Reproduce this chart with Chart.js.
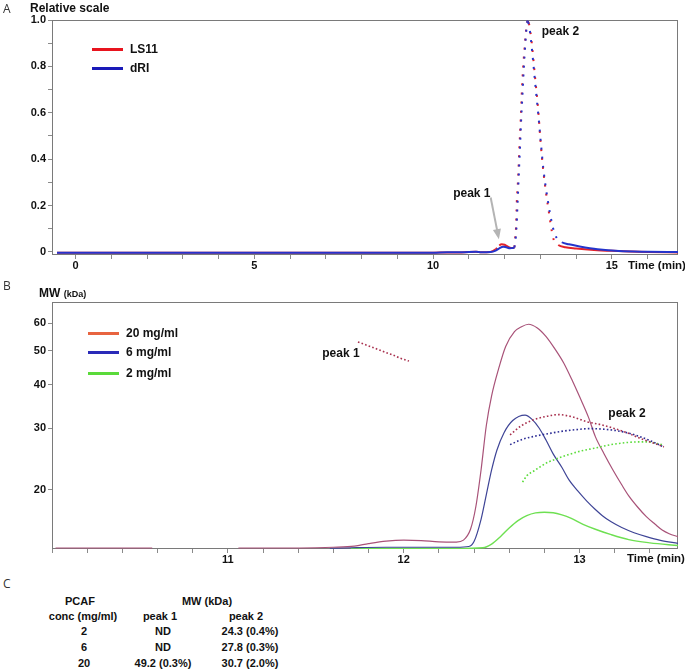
<!DOCTYPE html>
<html>
<head>
<meta charset="utf-8">
<script src="https://cdn.jsdelivr.net/npm/chart.js@4.4.1/dist/chart.umd.min.js"></script>
<style>
  body { margin: 0; width: 685px; height: 671px; background: #fff; position: relative; overflow: hidden;
         font-family: "Liberation Sans", Arial, sans-serif; }
  canvas { position: absolute; left: 0; }
  #chartA { top: 0; }
  #chartB { top: 280px; }
  .t { position: absolute; white-space: nowrap; transform: translateY(-50%); font-weight: bold; font-size: 12px; color: #111; }
  .c { position: absolute; white-space: nowrap; transform: translate(-50%, -50%); font-weight: bold; font-size: 11px; color: #111; }
  .panel { position: absolute; font-family: "Open Sans", "DejaVu Sans", sans-serif; font-size: 12px; color: #333; transform: translateY(-50%); }
  .leg { position: absolute; width: 31px; height: 3px; }
</style>
</head>
<body>
<canvas id="chartA" width="685" height="280"></canvas>
<canvas id="chartB" width="685" height="290"></canvas>

<div class="panel" style="left:3px;top:8px">A</div>
<div class="t" style="left:30px;top:8px">Relative scale</div>
<div class="t" style="left:628px;top:265px;font-size:11.5px">Time (min)</div>

<div class="panel" style="left:3px;top:285px">B</div>
<div class="t" style="left:39px;top:293px">MW <span style="font-size:9px">(kDa)</span></div>
<div class="t" style="left:627px;top:558px;font-size:11.5px">Time (min)</div>

<div class="panel" style="left:3px;top:583px">C</div>
<div id="legendA"></div>
<div id="legendB"></div>
<div id="tableC"></div>

<script>
// ---- panel A: light scattering (LS11) and refractive index (dRI) traces
const LS11_T = [-0.52, 10.0, 10.4, 10.8, 11.2, 11.35, 11.6, 11.75, 11.85, 11.92, 12.0, 12.08, 12.15, 12.22, 12.27,
  12.29, 12.32, 12.34, 12.38, 12.41, 12.45, 12.48, 12.52, 12.57, 12.61, 12.64, 12.68, 12.72, 12.76, 12.85,
  12.94, 13.01, 13.08, 13.16, 13.25, 13.32, 13.38, 13.5, 13.7, 14.0, 14.5, 15.0, 15.5, 16.0, 16.85];
const LS11_V = [-0.003, -0.003, -0.002, -0.002, 0.001, -0.001, 0.0, 0.012, 0.028, 0.033, 0.031, 0.024, 0.018, 0.017, 0.02,
  0.052, 0.108, 0.211, 0.324, 0.44, 0.569, 0.684, 0.799, 0.9, 0.97, 0.993, 0.985, 0.95, 0.899, 0.756,
  0.612, 0.468, 0.353, 0.253, 0.16, 0.09, 0.05, 0.03, 0.02, 0.015, 0.009, 0.005, 0.002, 0.0, -0.002];

const DRI_T = [-0.52, 10.0, 10.4, 10.8, 11.2, 11.35, 11.6, 11.75, 11.85, 11.96, 12.05, 12.15, 12.22, 12.27, 12.3,
  12.33, 12.36, 12.39, 12.43, 12.46, 12.5, 12.54, 12.58, 12.61, 12.635, 12.66, 12.7, 12.74, 12.78, 12.86,
  12.95, 13.02, 13.09, 13.17, 13.26, 13.36, 13.45, 13.6, 13.8, 14.1, 14.6, 15.2, 16.0, 16.85];
const DRI_V = [-0.003, -0.003, -0.001, -0.001, 0.001, -0.001, 0.0, 0.006, 0.016, 0.023, 0.02, 0.016, 0.017, 0.02, 0.045,
  0.1, 0.2, 0.31, 0.45, 0.56, 0.68, 0.8, 0.9, 0.96, 0.995, 0.99, 0.96, 0.91, 0.85, 0.72,
  0.58, 0.46, 0.35, 0.26, 0.175, 0.1, 0.062, 0.042, 0.033, 0.024, 0.012, 0.004, 0.001, 0.0];

const A_X_LABELS = [0, 5, 10, 15];
const A_Y_LABELS = [0, 0.2, 0.4, 0.6, 0.8, 1.0];

// ---- panel B: detector traces (relative) and MW (kDa, log axis)
const TRACE20_T = [10.02, 10.57, 10.8, 11.06, 11.3, 11.5, 11.6, 11.72, 11.8, 11.9, 12.0, 12.1, 12.2, 12.3, 12.34,
  12.38, 12.41, 12.44, 12.47, 12.5, 12.54, 12.58, 12.63, 12.67, 12.71, 12.76, 12.81, 12.86, 12.91, 12.96,
  13.0, 13.05, 13.09, 13.14, 13.19, 13.24, 13.28, 13.33, 13.38, 13.43, 13.47, 13.51, 13.56];
const TRACE20_V = [0.004, 0.004, null, 0.004, 0.004, 0.005, 0.007, 0.012, 0.022, 0.032, 0.036, 0.034, 0.029, 0.028, 0.036,
  0.08, 0.17, 0.32, 0.5, 0.62, 0.73, 0.82, 0.88, 0.9, 0.91, 0.895, 0.86, 0.81, 0.753, 0.68,
  0.617, 0.535, 0.455, 0.385, 0.32, 0.26, 0.215, 0.17, 0.131, 0.1, 0.077, 0.062, 0.05];

const TRACE6_T = [11.58, 11.7, 11.9, 12.1, 12.3, 12.37, 12.4, 12.44, 12.47, 12.5, 12.53, 12.57, 12.62, 12.69, 12.73,
  12.77, 12.81, 12.85, 12.9, 12.94, 12.99, 13.04, 13.09, 13.13, 13.18, 13.24, 13.31, 13.38, 13.46, 13.56];
const TRACE6_V = [0.003, 0.005, 0.007, 0.007, 0.007, 0.01, 0.03, 0.12, 0.22, 0.32, 0.4, 0.47, 0.52, 0.542, 0.525,
  0.49, 0.44, 0.385, 0.33, 0.28, 0.235, 0.195, 0.16, 0.135, 0.11, 0.087, 0.066, 0.05, 0.035, 0.023];

const TRACE2_T = [11.7, 12.0, 12.3, 12.45, 12.5, 12.55, 12.6, 12.65, 12.7, 12.75, 12.8, 12.85, 12.9, 12.95, 13.02,
  13.09, 13.18, 13.28, 13.4, 13.56];
const TRACE2_V = [0.002, 0.002, 0.002, 0.005, 0.02, 0.05, 0.085, 0.115, 0.135, 0.146, 0.149, 0.147, 0.138, 0.125, 0.1,
  0.08, 0.058, 0.038, 0.025, 0.014];

const MW20_PEAK1_T = [11.74, 11.78, 11.82, 11.86, 11.9, 11.94, 11.98, 12.03];
const MW20_PEAK1 = [53.0, 52.1, 51.2, 50.3, 49.4, 48.6, 47.6, 46.7];
const MW20_PEAK2_T = [12.605, 12.67, 12.74, 12.81, 12.88, 12.96, 13.04, 13.12, 13.19, 13.27, 13.34, 13.41, 13.48];
const MW20_PEAK2 = [28.7, 30.5, 31.7, 32.4, 32.8, 32.3, 31.3, 30.7, 30.0, 29.1, 28.1, 27.3, 26.5];
const MW6_T = [12.605, 12.67, 12.74, 12.82, 12.905, 12.98, 13.06, 13.13, 13.19, 13.27, 13.34, 13.41, 13.47];
const MW6 = [26.9, 27.8, 28.4, 28.9, 29.4, 29.7, 29.9, 29.8, 29.6, 29.1, 28.4, 27.5, 26.6];
const MW2_T = [12.676, 12.7, 12.74, 12.78, 12.81, 12.87, 12.94, 13.01, 13.09, 13.18, 13.28, 13.38, 13.47];
const MW2 = [21.0, 21.9, 22.6, 23.3, 23.8, 24.5, 25.2, 25.8, 26.3, 26.9, 27.3, 27.4, 26.9];

const B_X_LABELS = [11, 12, 13];
const MW_TICKS = [20, 30, 40, 50, 60];

// ---- panel C: table
const CONC = ['2', '6', '20'];
const PEAK1 = ['ND', 'ND', '49.2 (0.3%)'];
const PEAK2 = ['24.3 (0.4%)', '27.8 (0.3%)', '30.7 (2.0%)'];

const FONT = '"Liberation Sans", Arial, sans-serif';
const pts = (t, v) => t.map((x, i) => ({ x, y: v[i] }));
const near = (v, list) => list.some(l => Math.abs(l - v) < 1e-6);

// box round the plot area
const frame = {
  id: 'frame',
  beforeDatasetsDraw(chart) {
    const { ctx, chartArea: a } = chart;
    ctx.save();
    ctx.strokeStyle = '#7a7a7a';
    ctx.lineWidth = 1;
    ctx.strokeRect(Math.round(a.left) + 0.5, Math.round(a.top) + 0.5,
      Math.round(a.right - a.left) - 1, Math.round(a.bottom - a.top) - 1);
    ctx.restore();
  }
};

// peak labels and the grey arrow
const notes = {
  id: 'notes',
  afterDatasetsDraw(chart, args, opts) {
    const { ctx, scales } = chart;
    const xs = scales.x, ys = scales[opts.yAxis || 'y'];
    ctx.save();
    ctx.font = 'bold 12px ' + FONT;
    ctx.fillStyle = '#111';
    ctx.textBaseline = 'middle';
    (opts.labels || []).forEach(l => ctx.fillText(l.text, xs.getPixelForValue(l.x), ys.getPixelForValue(l.y)));
    (opts.arrows || []).forEach(a => {
      const x0 = xs.getPixelForValue(a.x0), y0 = ys.getPixelForValue(a.y0);
      const x1 = xs.getPixelForValue(a.x1), y1 = ys.getPixelForValue(a.y1);
      const ang = Math.atan2(y1 - y0, x1 - x0);
      ctx.strokeStyle = '#b4b4b4'; ctx.fillStyle = '#b4b4b4'; ctx.lineWidth = 2;
      ctx.beginPath(); ctx.moveTo(x0, y0);
      ctx.lineTo(x1 - 8 * Math.cos(ang), y1 - 8 * Math.sin(ang)); ctx.stroke();
      ctx.beginPath(); ctx.moveTo(x1, y1);
      ctx.lineTo(x1 - 11 * Math.cos(ang - 0.38), y1 - 11 * Math.sin(ang - 0.38));
      ctx.lineTo(x1 - 11 * Math.cos(ang + 0.38), y1 - 11 * Math.sin(ang + 0.38));
      ctx.closePath(); ctx.fill();
    });
    ctx.restore();
  }
};

const tickFont = { family: FONT, size: 11, weight: 'bold' };
const axisGrid = { drawOnChartArea: false, tickLength: 4, color: '#8a8a8a' };

// steep parts of the chromatogram come out as separate sample dots
const steep = c => Math.abs(c.p1.y - c.p0.y) > 3 ? [2, 7] : undefined;

new Chart(document.getElementById('chartA'), {
  type: 'line',
  data: {
    datasets: [
      { label: 'dRI', data: pts(DRI_T, DRI_V), borderColor: '#2434cc', borderWidth: 2, segment: { borderDash: steep } },
      { label: 'LS11', data: pts(LS11_T, LS11_V), borderColor: '#e3222a', borderWidth: 2, segment: { borderDash: steep } }
    ]
  },
  options: {
    responsive: false,
    animation: false,
    events: [],
    parsing: false,
    layout: { padding: { left: 0, top: 20, right: 7, bottom: 0 } },
    elements: { point: { radius: 0 }, line: { cubicInterpolationMode: 'monotone' } },
    plugins: {
      legend: { display: false },
      tooltip: { enabled: false },
      notes: {
        labels: [{ text: 'peak 1', x: 10.56, y: 0.25 }, { text: 'peak 2', x: 13.04, y: 0.95 }],
        arrows: [{ x0: 11.61, y0: 0.235, x1: 11.84, y1: 0.055 }]
      }
    },
    scales: {
      x: {
        type: 'linear', min: -0.66, max: 16.85,
        afterFit: s => { s.height = 25; },
        grid: axisGrid, border: { display: false },
        ticks: { stepSize: 1, includeBounds: false, autoSkip: false, maxRotation: 0, padding: 0,
          font: tickFont, color: '#111', callback: v => near(v, A_X_LABELS) ? String(Math.round(v)) : '' }
      },
      y: {
        min: -0.013, max: 1.0,
        afterFit: s => { s.width = 52; },
        grid: axisGrid, border: { display: false },
        ticks: { stepSize: 0.1, includeBounds: false, autoSkip: false, padding: 2,
          font: tickFont, color: '#111',
          callback: v => near(v, A_Y_LABELS) ? (Math.abs(v) < 1e-6 ? '0' : v.toFixed(1)) : '' }
      }
    }
  },
  plugins: [frame, notes]
});

new Chart(document.getElementById('chartB'), {
  type: 'line',
  data: {
    datasets: [
      { label: '20 mg/ml MW peak 1', data: pts(MW20_PEAK1_T, MW20_PEAK1), yAxisID: 'y', borderColor: '#a8304e', borderWidth: 1.6, borderDash: [1.6, 2.2] },
      { label: '20 mg/ml MW peak 2', data: pts(MW20_PEAK2_T, MW20_PEAK2), yAxisID: 'y', borderColor: '#a8304e', borderWidth: 1.6, borderDash: [1.6, 2.2] },
      { label: '6 mg/ml MW', data: pts(MW6_T, MW6), yAxisID: 'y', borderColor: '#2c2c94', borderWidth: 1.6, borderDash: [1.6, 2.2] },
      { label: '2 mg/ml MW', data: pts(MW2_T, MW2), yAxisID: 'y', borderColor: '#5cdc3c', borderWidth: 1.6, borderDash: [1.6, 2.2] },
      { label: '20 mg/ml', data: pts(TRACE20_T, TRACE20_V), yAxisID: 'y2', borderColor: '#a85278', borderWidth: 1.2 },
      { label: '6 mg/ml', data: pts(TRACE6_T, TRACE6_V), yAxisID: 'y2', borderColor: '#3e4496', borderWidth: 1.2 },
      { label: '2 mg/ml', data: pts(TRACE2_T, TRACE2_V), yAxisID: 'y2', borderColor: '#6ee052', borderWidth: 1.4 }
    ]
  },
  options: {
    responsive: false,
    animation: false,
    events: [],
    parsing: false,
    layout: { padding: { left: 0, top: 22, right: 7, bottom: 0 } },
    elements: { point: { radius: 0 }, line: { cubicInterpolationMode: 'monotone' } },
    plugins: {
      legend: { display: false },
      tooltip: { enabled: false },
      notes: {
        labels: [{ text: 'peak 1', x: 11.537, y: 49.2 }, { text: 'peak 2', x: 13.164, y: 33.0 }]
      }
    },
    scales: {
      x: {
        type: 'linear', min: 10.0, max: 13.56,
        afterFit: s => { s.height = 21; },
        grid: axisGrid, border: { display: false },
        ticks: { stepSize: 0.2, includeBounds: false, autoSkip: false, maxRotation: 0, padding: 0,
          font: tickFont, color: '#111', callback: v => near(v, B_X_LABELS) ? String(Math.round(v)) : '' }
      },
      y: {
        type: 'logarithmic', min: 13.5, max: 69,
        afterFit: s => { s.width = 52; },
        afterBuildTicks: s => { s.ticks = MW_TICKS.map(v => ({ value: v })); },
        grid: axisGrid, border: { display: false },
        ticks: { autoSkip: false, padding: 2, font: tickFont, color: '#111', callback: v => String(v) }
      },
      y2: { type: 'linear', min: 0, max: 1, display: false }
    }
  },
  plugins: [frame, notes]
});

// legends
const legend = (el, items, x, ys) => {
  items.forEach((it, i) => {
    el.insertAdjacentHTML('beforeend',
      `<div class="leg" style="left:${x}px;top:${ys[i] - 1.5}px;background:${it.color}"></div>` +
      `<div class="t" style="left:${x + 38}px;top:${ys[i]}px">${it.label}</div>`);
  });
};
legend(document.getElementById('legendA'),
  [{ label: 'LS11', color: '#e8141e' }, { label: 'dRI', color: '#1a1ab8' }], 92, [49, 68]);
legend(document.getElementById('legendB'),
  [{ label: '20 mg/ml', color: '#e86440' }, { label: '6 mg/ml', color: '#2a2ab8' }, { label: '2 mg/ml', color: '#5ada3a' }],
  88, [333, 352, 373]);

// table C
const tbl = document.getElementById('tableC');
const cell = (text, x, y) => tbl.insertAdjacentHTML('beforeend', `<div class="c" style="left:${x}px;top:${y}px">${text}</div>`);
cell('PCAF', 80, 601);
cell('MW (kDa)', 207, 601);
cell('conc (mg/ml)', 83, 616);
cell('peak 1', 160, 616);
cell('peak 2', 246, 616);
CONC.forEach((c, i) => {
  const y = 631 + i * 16;
  cell(c, 84, y);
  cell(PEAK1[i], 163, y);
  cell(PEAK2[i], 250, y);
});
</script>
</body>
</html>
